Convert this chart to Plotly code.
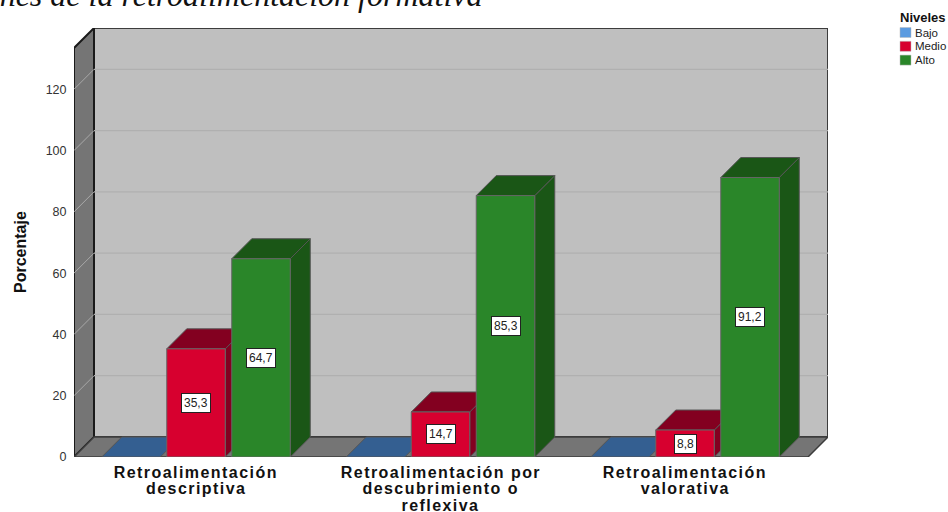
import plotly.graph_objects as go

category_lines = [["Retroalimentación", "descriptiva"],
                  ["Retroalimentación por", "descubrimiento o", "reflexiva"],
                  ["Retroalimentación", "valorativa"]]
levels = ["Bajo", "Medio", "Alto"]
bajo = [0, 0, 0]
medio = [35.3, 14.7, 8.8]
alto = [64.7, 85.3, 91.2]
y_ticks = [0, 20, 40, 60, 80, 100, 120]
title_text = "Dimensiones de la retroalimentación formativa"
y_title = "Porcentaje"
legend_title = "Niveles"

front_colors = ["#5b9be0", "#d7002f", "#2a8629"]
top_colors = ["#345f91", "#830020", "#1a5616"]
side_colors = ["#345f91", "#830020", "#1a5616"]

W, H = 948, 512
L, R, T, B = 74, 828, 28, 457
PX_X = 244.5
X0 = (74 - 196) / PX_X
X1 = (828 - 196) / PX_X
Y1 = 140.0
PX_Y = (B - T) / Y1
DX = 20 / PX_X
DY = 20 / PX_Y
BW = 58.5 / PX_X
SLOT = 65 / PX_X
XF = (808 - 196) / PX_X   # front right of floor


def px(xp):
    return (xp - L) / (R - L)


def py(yp):
    return (B - yp) / (B - T)


def poly(pts, fill, line="#555555", w=1, layer="below"):
    path = "M " + " L ".join(f"{x},{y}" for x, y in pts) + " Z"
    return dict(type="path", path=path, fillcolor=fill, xref="x", yref="y",
                line=dict(color=line, width=w), layer=layer)


shapes = []
shapes.append(poly([(X0 + DX, DY), (X1, DY), (X1, Y1), (X0 + DX, Y1)], "#bfbfbf", "#3c3c3c", 2))
shapes.append(poly([(X0, 0), (X0 + DX, DY), (X0 + DX, Y1), (X0, Y1 - DY)], "#757575", "#1a1a1a", 2))
shapes.append(poly([(X0, 0), (XF, 0), (X1, DY), (X0 + DX, DY)], "#757575", "#3c3c3c", 1.5))
for t in y_ticks[1:]:
    shapes.append(dict(type="line", xref="x", yref="y", x0=X0 + DX, x1=X1, y0=t + DY, y1=t + DY,
                       line=dict(color="#b0b0b0", width=1.2), layer="below"))
    shapes.append(dict(type="line", xref="x", yref="y", x0=X0, x1=X0 + DX, y0=t, y1=t + DY,
                       line=dict(color="#a8a8a8", width=1), layer="below"))

series = [bajo, medio, alto]
for s, vals in enumerate(series):
    for c, v in enumerate(vals):
        x_l = c + (s - 1) * SLOT - BW / 2
        x_r = x_l + BW
        if v > 0:
            shapes.append(poly([(x_r, 0), (x_r + DX, DY), (x_r + DX, v + DY), (x_r, v)], side_colors[s]))
        shapes.append(poly([(x_l, v), (x_r, v), (x_r + DX, v + DY), (x_l + DX, v + DY)], top_colors[s]))

fig = go.Figure()
for s, vals in enumerate(series):
    if s == 0:
        continue
    fig.add_trace(go.Bar(
        x=[0, 1, 2], y=vals, name=levels[s], width=BW,
        offset=(s - 1) * SLOT - BW / 2,
        marker=dict(color=front_colors[s], line=dict(color="#666666", width=1)),
        showlegend=False, hoverinfo="skip"))

annotations = []
for s, vals in enumerate(series):
    if s == 0:
        continue
    for c, v in enumerate(vals):
        annotations.append(dict(
            x=c + (s - 1) * SLOT, y=v / 2, xref="x", yref="y",
            text=f"{v:.1f}".replace(".", ","), showarrow=False,
            font=dict(family="Liberation Sans", size=12, color="#222222"),
            bgcolor="white", bordercolor="#222222", borderwidth=1, borderpad=2))

for c, lines in enumerate(category_lines):
    for i, line in enumerate(lines):
        annotations.append(dict(
            x=c, y=py(472 + i * 16.5), xref="x", yref="paper", yanchor="middle", text=f"<b>{line}</b>",
            showarrow=False, align="center",
            font=dict(family="Liberation Sans", size=16, color="#111111")))

annotations.append(dict(
    x=px(485), y=py(15), xref="paper", yref="paper", xanchor="right", yanchor="bottom",
    text=f"<i>{title_text}</i>", showarrow=False,
    font=dict(family="Liberation Serif", size=32, color="#111111")))

annotations.append(dict(
    x=px(20), y=py(252), xref="paper", yref="paper", xanchor="center", yanchor="middle",
    text=f"<b>{y_title}</b>", showarrow=False,
    textangle=-90, font=dict(family="Liberation Sans", size=16, color="#111111")))

annotations.append(dict(x=px(898), y=py(17), xref="paper", yref="paper", xanchor="left", yanchor="middle",
                        showarrow=False, text=f"<b>{legend_title}</b>",
                        font=dict(family="Liberation Sans", size=13, color="#111111")))
for s, name in enumerate(levels):
    yc = 32.5 + s * 13.8
    shapes.append(dict(type="rect", xref="paper", yref="paper", x0=px(900), x1=px(911),
                       y0=py(yc - 5), y1=py(yc + 5), fillcolor=front_colors[s],
                       line=dict(color="#bbbbbb", width=0.5), layer="above"))
    annotations.append(dict(x=px(913), y=py(yc), xref="paper", yref="paper", xanchor="left", yanchor="middle",
                            showarrow=False, text=name,
                            font=dict(family="Liberation Sans", size=11.5, color="#222222")))

fig.update_layout(
    width=W, height=H, margin=dict(l=L, r=W - R, t=T, b=H - B, pad=0),
    paper_bgcolor="white", plot_bgcolor="white",
    barmode="overlay", showlegend=False, shapes=shapes, annotations=annotations,
    font=dict(family="Liberation Sans"),
    xaxis=dict(range=[X0, X1], showgrid=False, zeroline=False, showline=False,
               tickvals=[], fixedrange=True),
    yaxis=dict(range=[0, Y1], tickvals=y_ticks, showgrid=False, zeroline=False, showline=False,
               ticks="outside", ticklen=4, tickcolor="white", fixedrange=True,
               tickfont=dict(family="Liberation Sans", size=12.5, color="#333333")),
)
post = """
document.documentElement.style.margin='0';
document.body.style.margin='0';
document.body.style.overflow='hidden';
document.querySelectorAll('.annotation-text').forEach(function(t){
  if (/^(Retroalimentaci|descubrimiento|descriptiva|valorativa|reflexiva)/.test(t.textContent)) {
    t.style.letterSpacing='1.45px';
  }
});
"""
fig.write_html("out.html", config=dict(displayModeBar=False), post_script=post)
